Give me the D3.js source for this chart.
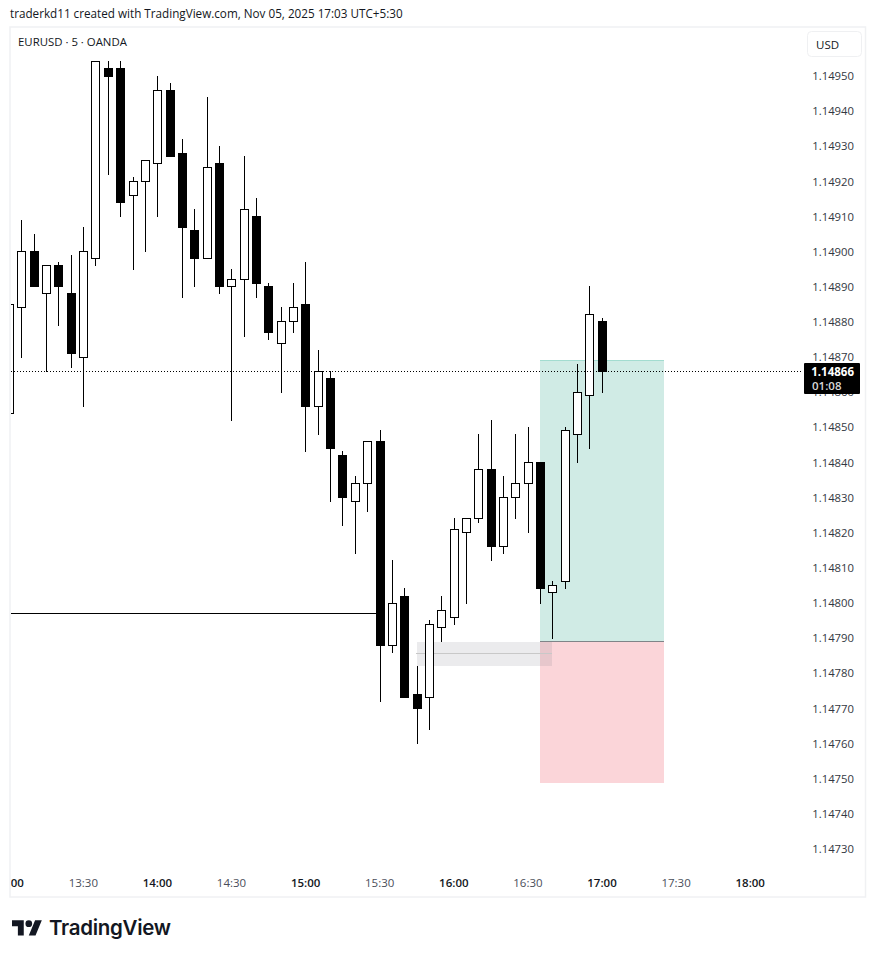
<!DOCTYPE html>
<html><head><meta charset="utf-8">
<script src="https://cdn.jsdelivr.net/npm/d3@7"></script>
<style>html,body{margin:0;background:#fff}svg{display:block}text{font-family:"Open Sans",sans-serif}</style>
</head><body><svg id="c" width="875" height="958"></svg>
<script>
const times=["13:00","13:05","13:10","13:15","13:20","13:25","13:30","13:35","13:40","13:45","13:50","13:55","14:00","14:05","14:10","14:15","14:20","14:25","14:30","14:35","14:40","14:45","14:50","14:55","15:00","15:05","15:10","15:15","15:20","15:25","15:30","15:35","15:40","15:45","15:50","15:55","16:00","16:05","16:10","16:15","16:20","16:25","16:30","16:35","16:40","16:45","16:50","16:55","17:00"];
const opens=[1.14854,1.14884,1.14900,1.14888,1.14896,1.14888,1.14870,1.14898,1.14952,1.14952,1.14916,1.14920,1.14925,1.14946,1.14928,1.14906,1.14898,1.14925,1.14890,1.14892,1.14910,1.14890,1.14874,1.14880,1.14885,1.14856,1.14864,1.14842,1.14829,1.14834,1.14846,1.14788,1.14802,1.14774,1.14773,1.14793,1.14796,1.14820,1.14824,1.14838,1.14816,1.14830,1.14834,1.14840,1.14803,1.14806,1.14848,1.14859,1.14880];
const highs=[1.14885,1.14909,1.14905,1.14896,1.14897,1.14899,1.14907,1.14954,1.14954,1.14954,1.14921,1.14926,1.14950,1.14948,1.14932,1.14912,1.14944,1.14930,1.14895,1.14927,1.14915,1.14891,1.14884,1.14891,1.14897,1.14872,1.14866,1.14843,1.14836,1.14846,1.14849,1.14812,1.14804,1.14782,1.14795,1.14802,1.14824,1.14824,1.14848,1.14852,1.14836,1.14848,1.14850,1.14840,1.14806,1.14850,1.14868,1.14890,1.14881];
const lows=[1.14854,1.14870,1.14890,1.14866,1.14879,1.14867,1.14856,1.14896,1.14922,1.14910,1.14895,1.14900,1.14910,1.14927,1.14887,1.14890,1.14898,1.14888,1.14852,1.14876,1.14887,1.14875,1.14860,1.14877,1.14843,1.14848,1.14829,1.14822,1.14814,1.14826,1.14772,1.14786,1.14773,1.14760,1.14764,1.14789,1.14794,1.14800,1.14823,1.14812,1.14814,1.14824,1.14820,1.14800,1.14790,1.14804,1.14840,1.14844,1.14860];
const closes=[1.14885,1.14900,1.14890,1.14896,1.14890,1.14871,1.14900,1.14954,1.14950,1.14914,1.14920,1.14926,1.14946,1.14927,1.14907,1.14898,1.14924,1.14890,1.14892,1.14912,1.14891,1.14877,1.14880,1.14884,1.14856,1.14866,1.14844,1.14830,1.14834,1.14846,1.14788,1.14800,1.14773,1.14770,1.14794,1.14798,1.14821,1.14824,1.14838,1.14816,1.14830,1.14834,1.14840,1.14804,1.14805,1.14849,1.14860,1.14882,1.14866];
const priceTicks=[1.14950,1.14940,1.14930,1.14920,1.14910,1.14900,1.14890,1.14880,1.14870,1.14860,1.14850,1.14840,1.14830,1.14820,1.14810,1.14800,1.14790,1.14780,1.14770,1.14760,1.14750,1.14740,1.14730];
const timeTicks=["13:00","13:30","14:00","14:30","15:00","15:30","16:00","16:30","17:00","17:30","18:00"];
const lastPrice=1.14866, countdown="01:08";
const positionStart="16:35", positionEnd="17:25";
const targetPrice=1.14869, entryPrice=1.14789, stopPrice=1.147486;
const zoneStart="15:45", zoneEnd="16:40", zoneTop=1.14789, zoneMid=1.14786, zoneBottom=1.14782;
const levelPrice=1.14797, levelEnd="15:30";

const mins=s=>{const[a,b]=s.split(":");return +a*60+ +b};
const svg=d3.select("#c");
const x=d3.scaleLinear().domain([840,1080]).range([157.7,750.5]);
const y=d3.scaleLinear().domain([1.14950,1.14730]).range([76,849]);
const px=t=>Math.floor(x(mins(t)))+.5, py=v=>Math.floor(y(v)+1e-6);
const plotL=11, plotR=803, frameT=28, frameB=897;

svg.append("defs").append("clipPath").attr("id","plot").append("rect").attr("x",plotL).attr("y",frameT).attr("width",plotR-plotL).attr("height",frameB-frameT);
svg.select("defs").append("clipPath").attr("id","tclip").append("rect").attr("x",plotL).attr("y",860).attr("width",780).attr("height",36);

// header + frame
svg.append("text").attr("x",10).attr("y",18).attr("font-size",11.7).attr("fill","#131722").text("traderkd11 created with TradingView.com, Nov 05, 2025 17:03 UTC+5:30");
svg.append("rect").attr("x",10).attr("y",27).attr("width",855.5).attr("height",870).attr("fill","none").attr("stroke","#f0f1f3").attr("stroke-width",1.5);
svg.append("text").attr("x",18).attr("y",46).attr("font-size",11.4).attr("fill","#131722").text("EURUSD · 5 · OANDA");

// price axis
const ga=svg.append("g").attr("transform",`translate(854,0)`).call(d3.axisRight(y).tickValues(priceTicks).tickSize(0).tickFormat(d3.format(".5f")));
ga.select(".domain").remove();
ga.selectAll("text").attr("x",0).attr("text-anchor","end").attr("font-size",11.3).attr("fill","#333842").style("font-family",'"Open Sans",sans-serif');

// time axis
const gt=svg.append("g").attr("clip-path","url(#tclip)").append("g").attr("transform","translate(-0.8,873)").call(d3.axisBottom(x).tickValues(timeTicks.map(mins)).tickSize(0).tickFormat((d)=>timeTicks[timeTicks.map(mins).indexOf(d)]));
gt.select(".domain").remove();
gt.selectAll("text").attr("font-size",11.5).attr("dy",".71em").attr("y",6)
  .attr("fill",d=>d%60===0?"#131722":"#4a4e5a").attr("font-weight",d=>d%60===0?600:400).style("font-family",'"Open Sans",sans-serif');

// USD button
svg.append("rect").attr("x",807.5).attr("y",31.5).attr("width",54).attr("height",25).attr("rx",4).attr("fill","#fff").attr("stroke","#eff0f2");
svg.append("text").attr("x",816).attr("y",49).attr("font-size",11.5).attr("fill","#131722").text("USD");

const plot=svg.append("g").attr("clip-path","url(#plot)");
// position tool
const pL=Math.floor(x(mins(positionStart))), pR=Math.floor(x(mins(positionEnd)));
plot.append("rect").attr("x",pL).attr("width",pR-pL).attr("y",py(targetPrice)).attr("height",py(entryPrice)-py(targetPrice)).attr("fill","#d0ebe5");
plot.append("rect").attr("x",pL).attr("width",pR-pL).attr("y",py(entryPrice)).attr("height",py(stopPrice)-py(entryPrice)).attr("fill","#fbd5d9");
plot.append("line").attr("x1",pL).attr("x2",pR).attr("y1",py(targetPrice)+.5).attr("y2",py(targetPrice)+.5).attr("stroke","#a3dcd0");
plot.append("line").attr("x1",pL).attr("x2",pR).attr("y1",py(entryPrice)+.5).attr("y2",py(entryPrice)+.5).attr("stroke","#7f8488");
// gray zone
const zL=Math.floor(x(mins(zoneStart))), zR=Math.floor(x(mins(zoneEnd)));
plot.append("rect").attr("x",zL).attr("width",zR-zL).attr("y",py(zoneTop)+1).attr("height",py(zoneBottom)-py(zoneTop)-1).attr("fill","rgba(120,123,134,.15)");
plot.append("line").attr("x1",zL-1).attr("x2",zR).attr("y1",py(zoneMid)+1.5).attr("y2",py(zoneMid)+1.5).attr("stroke","#c8c8c8");
// horizontal level
plot.append("line").attr("x1",plotL).attr("x2",px(levelEnd)).attr("y1",py(levelPrice)+.5).attr("y2",py(levelPrice)+.5).attr("stroke","#000");
// candles
const idx=d3.range(times.length);
plot.append("g").selectAll("line").data(idx).join("line")
 .attr("x1",i=>px(times[i])).attr("x2",i=>px(times[i])).attr("y1",i=>py(highs[i])).attr("y2",i=>py(lows[i])+1).attr("stroke","#000");
plot.append("g").selectAll("rect").data(idx).join("rect")
 .each(function(i){
   const up=closes[i]>=opens[i], c=px(times[i]);
   const t=py(Math.max(opens[i],closes[i])), b=py(Math.min(opens[i],closes[i]));
   const s=d3.select(this);
   if(up) s.attr("x",c-4).attr("width",8).attr("y",t+.5).attr("height",Math.max(b-t,1)).attr("fill","#fff").attr("stroke","#000");
   else s.attr("x",c-4.5).attr("width",9).attr("y",t).attr("height",b-t+1).attr("fill","#000");
 });
// last price line
svg.append("line").attr("x1",plotL).attr("x2",plotR).attr("y1",py(lastPrice)+.5).attr("y2",py(lastPrice)+.5).attr("stroke","#000").attr("stroke-dasharray","1 2");
svg.append("rect").attr("x",804).attr("y",363).attr("width",56).attr("height",31).attr("rx",1).attr("fill","#000");
svg.append("text").attr("x",854).attr("y",376).attr("text-anchor","end").attr("font-size",11.5).attr("font-weight",700).attr("fill","#fff").text(d3.format(".5f")(lastPrice));
svg.append("text").attr("x",812).attr("y",390).attr("font-size",11.5).attr("font-weight",600).attr("fill","#d8d8d8").text(countdown);

// logo
const logo=svg.append("g").attr("transform","translate(12,917) scale(.84)").attr("fill","#131722");
logo.append("path").attr("d","M14 22H7V11H0V4h14v18zM28 22h-8l7.5-18h8L28 22z");
logo.append("circle").attr("cx",20).attr("cy",8).attr("r",4);
svg.append("text").attr("x",49).attr("y",935).attr("font-size",20.5).attr("font-weight",600).attr("fill","#131722").style("font-family","Inter,sans-serif").style("letter-spacing","-.3px").text("TradingView");
</script></body></html>
